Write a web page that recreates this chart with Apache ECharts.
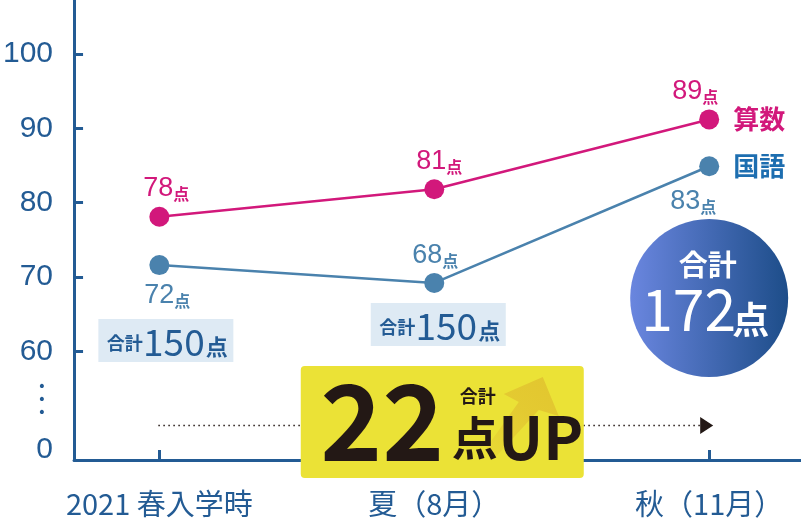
<!DOCTYPE html>
<html><head><meta charset="utf-8">
<script src="https://cdn.jsdelivr.net/npm/echarts@6/dist/echarts.min.js"></script>
<style>html,body{margin:0;padding:0;background:#fff}#c{width:801px;height:526px}</style>
</head><body><div id="c"></div>
<script>
// ---- data ----
const categories = ['2021 春入学時', '夏（8月）', '秋（11月）'];
const mathName = '算数';
const mathScores = [78, 81, 89];          // printed labels
const mathPlot = [78.1, 81.8, 91.2];      // plotted positions
const japName = '国語';
const japScores = [72, 68, 83];
const japPlot = [71.6, 69.2, 84.9];
const totals = [150, 150, 172];
const gain = 22;
const yTicks = [60, 70, 80, 90, 100];
const yZeroLabel = '0';

// ---- styles ----
const AX = '#235b94';
const MC = '#d2187b';
const JC = '#4a82ad';
const JN = '#1d6eb0';
const CJK = 'Noto Sans CJK JP';
const LAT = 'Liberation Sans';

const layout = {
  math: {pos: ['top', 'top', 'top'], dist: [5, 4, 4], off: [[7, 0], [5, 0], [-14, 0]]},
  jap: {pos: ['bottom', 'top', 'bottom'], dist: [6, 4, 11], off: [[8, 0], [1, 0], [-16, 0]]}
};

function mk(plot, scores, lay, col) {
  return plot.map((v, i) => ({
    value: [i, v],
    label: {
      show: true, position: lay.pos[i], distance: lay.dist[i], offset: lay.off[i],
      formatter: '{n|' + scores[i] + '}{u|点}',
      rich: {
        n: {fontSize: 27, color: col, fontFamily: LAT, lineHeight: 28, verticalAlign: 'bottom'},
        u: {fontSize: 16, fontWeight: 'bold', color: col, fontFamily: CJK, lineHeight: 24, verticalAlign: 'bottom'}
      }
    }
  }));
}

const chart = echarts.init(document.getElementById('c'), null, {renderer: 'canvas'});
const option = {
  animation: false,
  grid: {left: 72.5, right: 0, top: 0, bottom: 66},
  xAxis: {
    type: 'value', min: -0.3103, max: 2.334,
    splitLine: {show: false},
    axisLine: {onZero: false, lineStyle: {color: AX, width: 3}},
    axisTick: {inside: true, length: 10, lineStyle: {color: AX, width: 3}, customValues: [0, 1, 2]},
    axisLabel: {customValues: [0, 1, 2], formatter: v => categories[Math.round(v)],
      color: AX, fontSize: 29, fontFamily: CJK, margin: 29, lineHeight: 30}
  },
  yAxis: {
    type: 'value', min: 45.37, max: 107.27,
    splitLine: {show: false},
    axisLine: {show: true, onZero: false, lineStyle: {color: AX, width: 3}},
    axisTick: {show: true, inside: true, length: 9, lineStyle: {color: AX, width: 3}, customValues: yTicks},
    axisLabel: {
      customValues: [46.7, 51.7, 53.45, 55.2].concat(yTicks),
      formatter: v => v < 50 ? yZeroLabel : (v < 58 ? '{dot|•}' : String(v)),
      color: AX, fontSize: 30, fontFamily: LAT, margin: 21,
      rich: {dot: {fontSize: 14, color: AX, padding: [0, 7, 0, 0], fontFamily: 'DejaVu Sans'}}
    }
  },
  series: [
    {name: mathName, type: 'line', data: mk(mathPlot, mathScores, layout.math, MC),
      symbol: 'circle', symbolSize: 20, lineStyle: {width: 2.5, color: MC}, itemStyle: {color: MC},
      endLabel: {show: true, formatter: '{a}', color: MC, fontSize: 26, fontWeight: 'bold', fontFamily: CJK, distance: 24},
      z: 3},
    {name: japName, type: 'line', data: mk(japPlot, japScores, layout.jap, JC),
      symbol: 'circle', symbolSize: 20, lineStyle: {width: 2.5, color: JC}, itemStyle: {color: JC},
      endLabel: {show: true, formatter: '{a}', color: JN, fontSize: 26, fontWeight: 'bold', fontFamily: CJK, distance: 24},
      z: 3}
  ]
};
chart.setOption(option);

// ---- annotations ----
const P = (x, y) => chart.convertToPixel({xAxisIndex: 0, yAxisIndex: 0}, [x, y]);
const base = [0, 1, 2].map(i => P(i, 50));
const cx = base.map(p => p[0]);
const ay = base[0][1];
const G = [];
const Z = 100;
function txt(text, x, y, size, weight, color, family) {
  G.push({type: 'text', z: Z + 2, style: {text: text, x: x, y: y, fontSize: size, fontWeight: weight || 'normal',
    fontFamily: family || CJK, fill: color, align: 'center', verticalAlign: 'middle'}});
}
// dotted arrow
G.push({type: 'line', z: Z, shape: {x1: cx[0] - 1, y1: ay, x2: cx[2] - 9, y2: ay},
  style: {stroke: '#231815', lineWidth: 1.5, lineDash: [1.5, 3.5]}});
G.push({type: 'polygon', z: Z, shape: {points: [[cx[2] - 9, ay - 8.5], [cx[2] - 9, ay + 8.5], [cx[2] + 4, ay]]},
  style: {fill: '#231815'}});

// totals boxes
[[cx[0] + 6.5, 319], [cx[1] + 4, 303]].forEach((b, i) => {
  const left = b[0] - 67.5, top = b[1];
  G.push({type: 'rect', z: Z, shape: {x: left, y: top, width: 135, height: 43}, style: {fill: '#deeaf4'}});
  txt('合計', left + 26.5, top + 24, 18, 'bold', AX);
  txt(String(totals[i]), left + 75.5, top + 22.5, 37, 'normal', AX);
  txt('点', left + 118.5, top + 28, 22, 'bold', AX);
});

// yellow box
const bx = cx[1] + 8;
G.push({type: 'rect', z: Z, shape: {x: bx - 141.5, y: 366, width: 283, height: 112, r: 4}, style: {fill: '#ebe236'}});
G.push({type: 'polygon', z: Z + 1, shape: {points: [[484, 450], [518, 402], [503, 394], [542, 377], [558, 416], [538, 410], [494, 458]].map(p => [p[0] - 441.5 + bx, p[1]])},
  style: {fill: new echarts.graphic.LinearGradient(0, 1, 1, 0, [{offset: 0, color: 'rgba(226,196,48,0.2)'}, {offset: 0.55, color: 'rgba(226,196,48,0.8)'}, {offset: 1, color: '#e2c62f'}])}});
txt(String(gain), bx - 60, 421.5, 105, 'bold', '#231815');
txt('合計', bx + 35.5, 396, 18, 'bold', '#231815');
txt('点', bx + 32.5, 437.5, 46, 'bold', '#231815');
txt('UP', bx + 98.5, 437.5, 60, 'bold', '#231815');

// circle
G.push({type: 'circle', z: Z, shape: {cx: cx[2], cy: 298, r: 79},
  style: {fill: new echarts.graphic.LinearGradient(0, 0, 1, 0, [{offset: 0, color: '#6a86df'}, {offset: 1, color: '#1d4d89'}])}});
txt('合計', cx[2] - 1.5, 265, 29, 'bold', '#ffffff');
txt(String(totals[2]), cx[2] - 20.5, 309, 57, 'normal', '#ffffff');
txt('点', cx[2] + 41.5, 319.5, 37, 'bold', '#ffffff');

chart.setOption({graphic: {elements: G}});
</script>
</body></html>
